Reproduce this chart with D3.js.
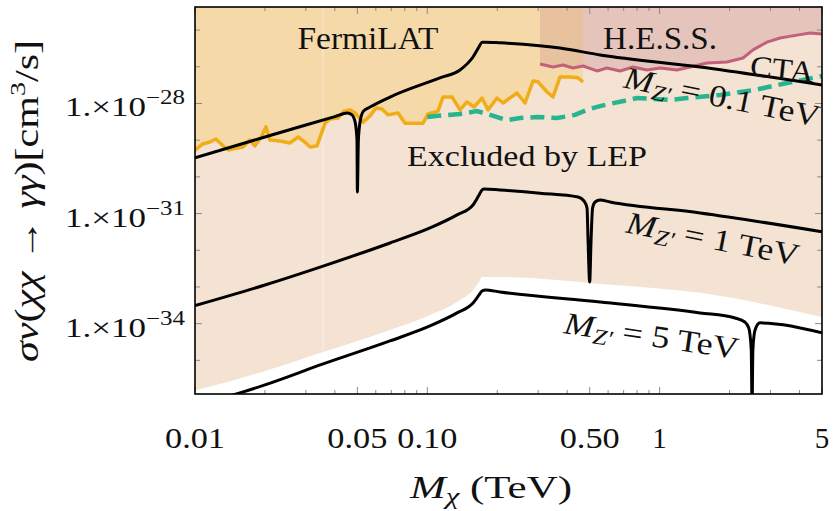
<!DOCTYPE html>
<html>
  <head>
    <meta charset="utf-8">
    <title>Annihilation into photons</title>
    <script src="https://cdn.jsdelivr.net/npm/d3@7"></script>
    <style>
      body { margin: 0; background: #fff; }
      text { font-family: "Liberation Serif", "DejaVu Serif", serif; fill: #111; }
    </style>
  </head>
  <body>
    <svg id="chart" width="834" height="511"></svg>
    <script>
      // axis values
      massRange = [0.01, 5];
      sigmaRange = [1.21e-36, 4.26e-26];
      massTicks = [0.01, 0.05, 0.1, 0.5, 1, 5];
      massTickLabels = ["0.01", "0.05", "0.10", "0.50", "1", "5"];
      massMinorTicks = [0.02, 0.03, 0.04, 0.06, 0.07, 0.08, 0.09, 0.2, 0.3, 0.4, 0.6, 0.7, 0.8, 0.9, 2, 3, 4];
      sigmaTicks = [1e-35, 1e-34, 1e-33, 1e-32, 1e-31, 1e-30, 1e-29, 1e-28, 1e-27, 1e-26];
      sigmaLabelTicks = [1e-28, 1e-31, 1e-34];
      sigmaLabelExponents = ["\u221228", "\u221231", "\u221234"];

      // theory curves [mass TeV, sigma v cm3/s]
      zPrime01 = [
        [0.01, 3.3e-30], [0.02, 1.22e-29], [0.03, 2.6e-29], [0.04, 4.4e-29], [0.0453, 5.5e-29],
        [0.0474, 4.9e-29], [0.0489, 3.1e-29], [0.0498, 1.0e-29], [0.05, 3.9e-31], [0.0505, 1.0e-29],
        [0.0515, 3.5e-29], [0.0531, 6.2e-29], [0.0567, 8.0e-29], [0.0691, 1.5e-28], [0.1134, 5.0e-28],
        [0.1383, 8.2e-28], [0.1573, 1.85e-27], [0.167, 3.5e-27], [0.172, 4.7e-27], [0.178, 4.7e-27],
        [0.2056, 4.5e-27], [0.3726, 3.25e-27], [0.554, 2.1e-27], [1.493, 9.9e-28], [5, 3.2e-28]
      ];
      zPrime1 = [
        [0.01, 3.1e-34], [0.02, 1.13e-33], [0.0356, 3.7e-33], [0.0691, 1.58e-32], [0.1027, 4.05e-32],
        [0.1343, 9.2e-32], [0.1573, 1.71e-31], [0.167, 3.2e-31], [0.172, 4.4e-31], [0.1757, 4.7e-31],
        [0.2056, 4.4e-31], [0.3057, 3.6e-31], [0.4454, 2.83e-31], [0.4727, 2.2e-31], [0.487, 1.42e-31],
        [0.4919, 1.91e-32], [0.5, 1.37e-33], [0.5069, 1.91e-32], [0.5145, 1.42e-31], [0.5275, 2.07e-31],
        [0.554, 2.35e-31], [0.612, 2.07e-31], [1.493, 1.04e-31], [5, 3.2e-32]
      ];
      zPrime5 = [
        [0.01, 5.7e-37], [0.02, 2.14e-36], [0.0356, 7.98e-36], [0.0691, 3.38e-35], [0.1027, 8.65e-35],
        [0.1343, 1.96e-34], [0.1573, 3.66e-34], [0.167, 6.05e-34], [0.172, 7.78e-34], [0.178, 8.3e-34],
        [0.2056, 7.3e-34], [0.554, 3.9e-34], [1.493, 1.96e-34], [2.11, 1.43e-34], [2.327, 1.11e-34],
        [2.42, 7.6e-35], [2.48, 1.92e-35], [2.5, 5e-37], [2.52, 1.92e-35], [2.575, 6.7e-35],
        [2.705, 1.05e-34], [5, 5.6e-35]
      ];

      // lower edge of the LEP exclusion
      lepLower = [
        [0.01, 1.51e-36], [0.02, 5.14e-36], [0.0356, 1.69e-35], [0.0691, 6.73e-35], [0.1027, 1.73e-34],
        [0.1343, 3.9e-34], [0.1573, 8.3e-34], [0.167, 1.37e-33], [0.172, 1.87e-33], [0.2056, 1.87e-33],
        [0.554, 1.21e-33], [1.493, 6.9e-34], [5, 1.52e-34]
      ];
      seamMass = 0.0356;

      // experimental limits
      fermiLat = [
        [0.01, 5.4e-30], [0.0108, 7.9e-30], [0.0116, 8.9e-30], [0.0123, 1.08e-29], [0.0132, 7.0e-30],
        [0.0139, 5.4e-30], [0.0146, 5.8e-30], [0.0161, 6.5e-30], [0.0172, 1.01e-29], [0.0181, 7.0e-30],
        [0.0194, 1.3e-29], [0.0202, 2.3e-29], [0.021, 1.01e-29], [0.0232, 9.5e-30], [0.0256, 8.4e-30],
        [0.0278, 1.22e-29], [0.0297, 8.9e-30], [0.0313, 6.5e-30], [0.0335, 7.0e-30], [0.0363, 2.9e-29],
        [0.0381, 3.8e-29], [0.0413, 4.0e-29], [0.0438, 6.2e-29], [0.0465, 6.7e-29], [0.0489, 5.5e-29],
        [0.0529, 3.1e-29], [0.0567, 4.6e-29], [0.0601, 7.5e-29], [0.0638, 7.1e-29], [0.0677, 4.9e-29],
        [0.0748, 5.5e-29], [0.0802, 2.9e-29], [0.0958, 2.9e-29], [0.1007, 5.2e-29], [0.1112, 6.2e-29],
        [0.1168, 1.5e-28], [0.1277, 1.5e-28], [0.1383, 6.7e-29], [0.1482, 1.1e-28], [0.1589, 8.0e-29],
        [0.172, 1.41e-28], [0.1825, 6.7e-29], [0.1995, 1.41e-28], [0.2118, 1.03e-28], [0.2433, 1.93e-28],
        [0.2634, 1.03e-28], [0.2851, 4.1e-28], [0.2997, 3.9e-28], [0.3276, 2.06e-28], [0.3477, 1.5e-28],
        [0.3726, 5.3e-28], [0.4114, 5.3e-28], [0.4454, 5.0e-28], [0.4681, 3.9e-28]
      ];
      hess = [
        [0.3057, 1.19e-27], [0.3477, 9.9e-28], [0.3839, 1.12e-27], [0.424, 9.3e-28], [0.4681, 1.05e-27],
        [0.5377, 7.7e-28], [0.5936, 9.3e-28], [0.6753, 7.7e-28], [0.7683, 9.9e-28], [0.8826, 8.2e-28],
        [1.004, 9.3e-28], [1.188, 8.2e-28], [1.352, 9.9e-28], [1.6, 1.27e-27], [1.951, 1.35e-27],
        [2.286, 1.74e-27], [2.524, 2.9e-27], [2.9, 4.7e-27], [3.298, 6.1e-27], [3.904, 7.3e-27],
        [4.441, 8.3e-27], [5, 7.8e-27]
      ];
      cta = [
        [0.1, 4.3e-29], [0.1112, 4.6e-29], [0.1383, 5.2e-29], [0.1637, 6.2e-29], [0.1862, 4.9e-29],
        [0.2203, 3.5e-29], [0.2506, 4.0e-29], [0.2967, 4.3e-29], [0.3617, 4.0e-29], [0.4323, 4.9e-29],
        [0.4871, 6.7e-29], [0.554, 8.5e-29], [0.7993, 1.41e-28], [0.9367, 1.33e-28], [1.109, 1.25e-28],
        [1.312, 1.41e-28], [1.82, 1.71e-28], [2.524, 2.3e-28], [3.535, 3.6e-28], [5, 5.6e-28]
      ];

      // scales
      svg = d3.select("#chart");
      x = d3.scaleLog().domain(massRange).range([195, 822]);
      y = d3.scaleLog().domain(sigmaRange).range([394, 7]);
      top_ = y.range()[1];
      bottom = y.range()[0];

      svg.append("clipPath").attr("id", "plotClip")
        .append("rect")
          .attr("x", x.range()[0]).attr("y", top_)
          .attr("width", x.range()[1] - x.range()[0]).attr("height", bottom - top_);
      plot = svg.append("g").attr("clip-path", "url(#plotClip)");

      smooth = d3.line().x(function(d) { return x(d[0]); }).y(function(d) { return y(d[1]); }).curve(d3.curveMonotoneX);
      jagged = d3.line().x(function(d) { return x(d[0]); }).y(function(d) { return y(d[1]); });
      regionAbove = function(curve) {
        return d3.area().x(function(d) { return x(d[0]); }).y0(function(d) { return y(d[1]); }).y1(top_).curve(curve);
      };

      // shaded regions
      plot.append("path").attr("d", regionAbove(d3.curveMonotoneX)(lepLower)).attr("fill", "#f4e3d3");
      plot.append("path").attr("d", regionAbove(d3.curveLinear)(fermiLat)).attr("fill", "#f5d9a9");
      plot.append("path").attr("d", regionAbove(d3.curveLinear)(hess)).attr("fill", "#e5c4bc");
      svg.append("clipPath").attr("id", "overlapClip")
        .append("rect")
          .attr("x", x(hess[0][0])).attr("y", top_)
          .attr("width", x(fermiLat[fermiLat.length - 1][0]) - x(hess[0][0])).attr("height", bottom - top_);
      plot.append("g").attr("clip-path", "url(#overlapClip)")
        .append("path").attr("d", regionAbove(d3.curveLinear)(hess)).attr("fill", "#e8c19f");
      plot.append("line")
        .attr("x1", x(seamMass)).attr("x2", x(seamMass))
        .attr("y1", top_).attr("y2", y(lepLower[2][1]))
        .attr("stroke", "#fff").attr("stroke-opacity", 0.45).attr("stroke-width", 1);

      // limit lines
      plot.append("path").attr("d", jagged(fermiLat))
        .attr("fill", "none").attr("stroke", "#f0ad17").attr("stroke-width", 3.5).attr("stroke-linejoin", "round");
      plot.append("path").attr("d", jagged(hess))
        .attr("fill", "none").attr("stroke", "#c2627a").attr("stroke-width", 3).attr("stroke-linejoin", "round");
      plot.append("path").attr("d", jagged(cta))
        .attr("fill", "none").attr("stroke", "#27b48f").attr("stroke-width", 4.5).attr("stroke-dasharray", "14,7");

      // model curves
      [zPrime01, zPrime1, zPrime5].forEach(function(c) {
        plot.append("path").attr("d", smooth(c))
          .attr("fill", "none").attr("stroke", "#000").attr("stroke-width", 3).attr("stroke-linejoin", "round");
      });

      // region and curve labels
      function label(text, cx, baseline, size, len, angle) {
        return svg.append("text")
          .attr("transform", "translate(" + cx + "," + baseline + ") rotate(" + (angle || 0) + ")")
          .attr("text-anchor", "middle")
          .attr("textLength", len).attr("lengthAdjust", "spacingAndGlyphs")
          .style("font-size", size + "px")
          .text(text);
      }
      label("FermiLAT", 368, 49, 31, 141);
      label("H.E.S.S.", 660, 49, 31, 114);
      label("Excluded by LEP", 527, 166, 30, 240);
      label("CTA", 781, 79, 30, 64, 6);

      function zLabel(cx, cy, angle, value, len) {
        t = svg.append("text")
          .attr("transform", "translate(" + cx + "," + cy + ") rotate(" + angle + ")")
          .attr("text-anchor", "middle")
          .attr("textLength", len).attr("lengthAdjust", "spacingAndGlyphs")
          .style("font-size", "31px");
        t.append("tspan").style("font-style", "italic").text("M");
        t.append("tspan").style("font-style", "italic").style("font-size", "22px").attr("dy", 6).text("Z\u2032");
        t.append("tspan").attr("dy", -6).text(" = " + value + " TeV");
      }
      zLabel(720, 107, 11.5, "0.1", 199);
      zLabel(711, 249, 11, "1", 175);
      zLabel(650, 346, 8.5, "5", 176);

      // frame and ticks
      axes = svg.append("g");
      function xTick(v, len) {
        axes.append("line").attr("x1", x(v)).attr("x2", x(v)).attr("y1", bottom).attr("y2", bottom - len);
        axes.append("line").attr("x1", x(v)).attr("x2", x(v)).attr("y1", top_).attr("y2", top_ + len);
      }
      function yTick(v, len) {
        axes.append("line").attr("y1", y(v)).attr("y2", y(v)).attr("x1", x.range()[0]).attr("x2", x.range()[0] + len);
        axes.append("line").attr("y1", y(v)).attr("y2", y(v)).attr("x1", x.range()[1]).attr("x2", x.range()[1] - len);
      }
      massTicks.forEach(function(v) { xTick(v, 7); });
      massMinorTicks.forEach(function(v) { xTick(v, 4); });
      sigmaTicks.forEach(function(v) { yTick(v, sigmaLabelTicks.indexOf(v) >= 0 ? 7 : 5); });
      axes.selectAll("line").attr("stroke", "#8a8a8a").attr("stroke-width", 1);
      svg.append("rect")
        .attr("x", x.range()[0]).attr("y", top_)
        .attr("width", x.range()[1] - x.range()[0]).attr("height", bottom - top_)
        .attr("fill", "none").attr("stroke", "#000").attr("stroke-width", 1.6);

      // tick labels
      massTicks.forEach(function(v, i) {
        t = svg.append("text")
          .attr("x", x(v)).attr("y", 448)
          .attr("text-anchor", "middle")
          .style("font-size", "29px")
          .text(massTickLabels[i]);
        if (massTickLabels[i].length > 1) t.attr("textLength", 60).attr("lengthAdjust", "spacingAndGlyphs");
      });
      sigmaLabelTicks.forEach(function(v, i) {
        t = svg.append("text")
          .attr("x", 185).attr("y", y(v) + 13)
          .attr("text-anchor", "end")
          .attr("textLength", 120).attr("lengthAdjust", "spacingAndGlyphs")
          .style("font-size", "28px");
        t.append("tspan").text("1.\u00d710");
        t.append("tspan").attr("dy", -12).style("font-size", "20px").text(sigmaLabelExponents[i]);
      });

      // axis titles
      xt = svg.append("text").attr("x", 491).attr("y", 498).attr("text-anchor", "middle")
        .attr("textLength", 162).attr("lengthAdjust", "spacingAndGlyphs")
        .style("font-size", "32px");
      xt.append("tspan").style("font-style", "italic").text("M");
      xt.append("tspan").style("font-style", "italic").style("font-size", "23px").attr("dy", 6).text("\u03c7");
      xt.append("tspan").attr("dy", -6).text(" (TeV)");

      yt = svg.append("text").attr("transform", "translate(38,201) rotate(-90)").attr("text-anchor", "middle")
        .attr("textLength", 322).attr("lengthAdjust", "spacingAndGlyphs")
        .style("font-size", "33px");
      yt.append("tspan").style("font-style", "italic").text("\u03c3v");
      yt.append("tspan").text("(");
      yt.append("tspan").style("font-style", "italic").text("\u03c7\u03c7");
      yt.append("tspan").text(" \u2192 ");
      yt.append("tspan").style("font-style", "italic").text("\u03b3\u03b3");
      yt.append("tspan").text(")[cm");
      yt.append("tspan").attr("dy", -13).style("font-size", "22px").text("3");
      yt.append("tspan").attr("dy", 13).text("/s]");
    </script>
  </body>
</html>
